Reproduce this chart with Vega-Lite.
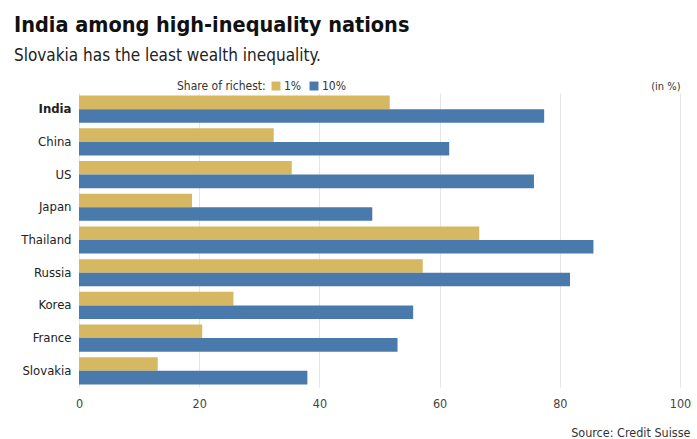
{
  "$schema": "https://vega.github.io/schema/vega-lite/v6.json",
  "width": 601,
  "height": 294,
  "autosize": {"type": "none"},
  "padding": {"left": 79, "top": 93, "right": 17, "bottom": 52},
  "background": "#ffffff",
  "title": {
    "text": "India among high-inequality nations",
    "subtitle": "Slovakia has the least wealth inequality.",
    "anchor": "start",
    "frame": "group",
    "dx": -65,
    "offset": 16,
    "font": "DejaVu Sans Condensed, Roboto, sans-serif",
    "fontSize": 21.5,
    "fontWeight": "bold",
    "color": "#111111",
    "subtitleFont": "DejaVu Sans Condensed, Roboto, sans-serif",
    "subtitleFontSize": 17,
    "subtitleColor": "#222222",
    "subtitlePadding": 12
  },
  "data": {
    "values": [
      {"country": "India", "group": "1%", "value": 51.7},
      {"country": "India", "group": "10%", "value": 77.4},
      {"country": "China", "group": "1%", "value": 32.4},
      {"country": "China", "group": "10%", "value": 61.6},
      {"country": "US", "group": "1%", "value": 35.4},
      {"country": "US", "group": "10%", "value": 75.7},
      {"country": "Japan", "group": "1%", "value": 18.8},
      {"country": "Japan", "group": "10%", "value": 48.8},
      {"country": "Thailand", "group": "1%", "value": 66.6},
      {"country": "Thailand", "group": "10%", "value": 85.6},
      {"country": "Russia", "group": "1%", "value": 57.2},
      {"country": "Russia", "group": "10%", "value": 81.7},
      {"country": "Korea", "group": "1%", "value": 25.7},
      {"country": "Korea", "group": "10%", "value": 55.6},
      {"country": "France", "group": "1%", "value": 20.5},
      {"country": "France", "group": "10%", "value": 53.0},
      {"country": "Slovakia", "group": "1%", "value": 13.1},
      {"country": "Slovakia", "group": "10%", "value": 38.0}
    ]
  },
  "mark": {"type": "bar"},
  "encoding": {
    "y": {
      "field": "country",
      "type": "nominal",
      "sort": ["India", "China", "US", "Japan", "Thailand", "Russia", "Korea", "France", "Slovakia"],
      "scale": {"paddingInner": 0.17, "paddingOuter": 0.08},
      "axis": {
        "title": "(in %)",
        "titleAngle": 0,
        "titleX": 601,
        "titleY": -7,
        "titleAlign": "right",
        "titleBaseline": "middle",
        "titleFont": "DejaVu Sans Condensed, Roboto, sans-serif",
        "titleFontSize": 11,
        "titleFontWeight": "normal",
        "titleColor": "#333333",
        "labelFont": "DejaVu Sans Condensed, Roboto, sans-serif",
        "labelFontSize": 13,
        "labelColor": "#222222",
        "labelFontWeight": {"condition": {"test": "datum.value == 'India'", "value": "bold"}, "value": "normal"},
        "labelPadding": 8,
        "ticks": false,
        "domain": false,
        "grid": false
      }
    },
    "yOffset": {"field": "group", "type": "nominal", "sort": ["1%", "10%"]},
    "x": {
      "field": "value",
      "type": "quantitative",
      "scale": {"domain": [0, 100], "nice": false},
      "axis": {
        "values": [0, 20, 40, 60, 80, 100],
        "title": "Source: Credit Suisse",
        "titleX": 611,
        "titleY": 45,
        "titleAlign": "right",
        "titleBaseline": "middle",
        "titleFont": "DejaVu Sans Condensed, Roboto, sans-serif",
        "titleFontSize": 12.5,
        "titleFontWeight": "normal",
        "titleColor": "#333333",
        "labelFont": "DejaVu Sans Condensed, Roboto, sans-serif",
        "labelFontSize": 12.5,
        "labelColor": "#444444",
        "labelPadding": 10,
        "ticks": false,
        "domain": false,
        "grid": true,
        "gridColor": "#e4e4e4",
        "labelFlush": false
      }
    },
    "color": {
      "field": "group",
      "type": "nominal",
      "sort": ["1%", "10%"],
      "scale": {"domain": ["1%", "10%"], "range": ["#d6b862", "#4a7aab"]},
      "legend": {
        "title": "Share of richest:",
        "orient": "none",
        "legendX": 98,
        "legendY": -13,
        "direction": "horizontal",
        "titleOrient": "left",
        "titleFont": "DejaVu Sans Condensed, Roboto, sans-serif",
        "titleFontSize": 12,
        "titleFontWeight": "normal",
        "titleColor": "#333333",
        "titlePadding": 4,
        "labelFont": "DejaVu Sans Condensed, Roboto, sans-serif",
        "labelFontSize": 12,
        "labelColor": "#333333",
        "labelOffset": 2,
        "symbolType": "square",
        "symbolSize": 80,
        "symbolStrokeWidth": 0,
        "columnPadding": 6
      }
    }
  },
  "config": {
    "view": {"stroke": null}
  }
}
